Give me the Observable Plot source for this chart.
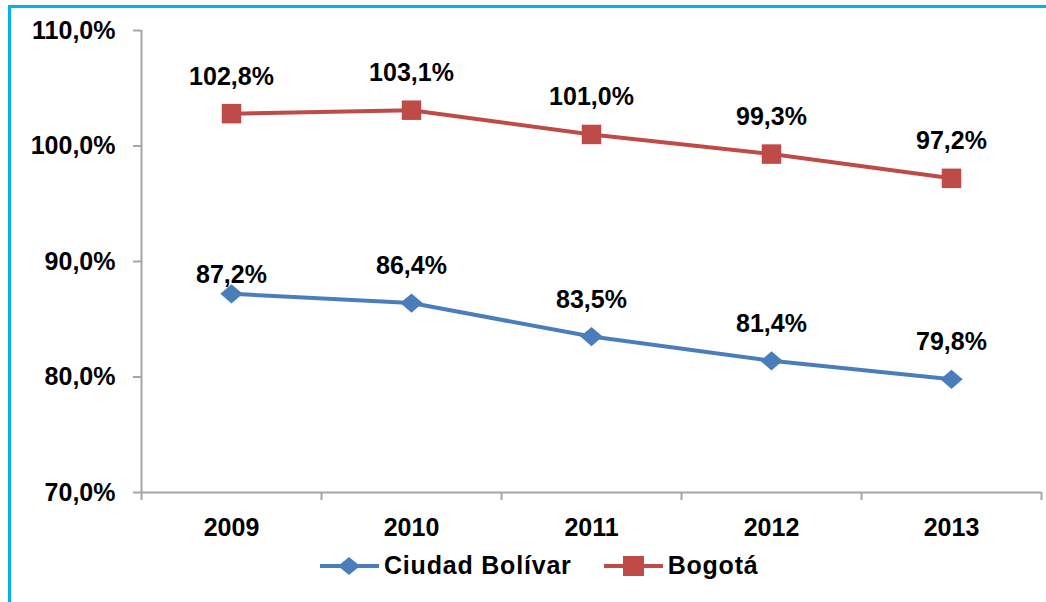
<!DOCTYPE html>
<html>
<head>
<meta charset="utf-8">
<script src="https://cdn.jsdelivr.net/npm/d3@7"></script>
<script src="https://cdn.jsdelivr.net/npm/@observablehq/plot@0.6"></script>
<style>
  html, body { margin: 0; padding: 0; background: #fff; }
  body { width: 1046px; height: 602px; position: relative; overflow: hidden;
         font-family: "Liberation Sans", Arial, sans-serif; }
  #frame { position: absolute; left: 8px; top: 5px; width: 1046px; height: 610px;
           border-top: 3px solid #00B0F0; border-left: 3px solid #00B0F0; box-sizing: border-box; }
  #chart { position: absolute; left: 0; top: 0; }
  #legend { position: absolute; left: 320px; top: 551px; display: flex; align-items: center;
            font-weight: bold; font-size: 25px; letter-spacing: 0.8px; color: #000; }
  #legend .item { display: flex; align-items: center; }
  #legend svg { display: block; margin-right: 5px; }
</style>
</head>
<body>
<div id="frame"></div>
<div id="chart"></div>
<div id="legend"></div>
<script>
const years = [2009, 2010, 2011, 2012, 2013];
const ciudadBolivar = [87.2, 86.4, 83.5, 81.4, 79.8];
const bogota = [102.8, 103.1, 101.0, 99.3, 97.2];
const seriesNames = ["Ciudad Bolívar", "Bogotá"];
const seriesColors = ["#4A7EBB", "#BE4B48"];
const yTicks = [70, 80, 90, 100, 110];

const data = [];
years.forEach((yr, i) => {
  data.push({year: yr, value: ciudadBolivar[i], series: seriesNames[0]});
  data.push({year: yr, value: bogota[i], series: seriesNames[1]});
});

const fmt = v => v.toFixed(1).replace(".", ",") + "%";

const diamond = {
  draw(ctx, size) {
    const r = Math.sqrt(size / 2);
    ctx.moveTo(0, -r * 0.9);
    ctx.lineTo(r * 1.05, 0);
    ctx.lineTo(0, r * 0.9);
    ctx.lineTo(-r * 1.05, 0);
    ctx.closePath();
  }
};

const boundaries = years.map(y => y - 0.5).concat([years[years.length - 1] + 0.5]);
const axisColor = "#A6A6A6";
const fontStyle = {fontFamily: "'Liberation Sans', Arial, sans-serif", fontWeight: "bold", fontSize: "25px", fill: "#000", letterSpacing: "0.5px"};

const first = d => d.year === years[0] && d.series === seriesNames[0];

const plot = Plot.plot({
  width: 1046,
  height: 545,
  marginLeft: 141,
  marginRight: 5,
  marginTop: 30,
  marginBottom: 53,
  style: {background: "transparent", overflow: "visible"},
  x: {domain: [boundaries[0], boundaries[boundaries.length - 1]]},
  y: {domain: [70, 110]},
  color: {domain: seriesNames, range: seriesColors},
  marks: [
    Plot.ruleX([boundaries[0]], {y1: 70, y2: 110, stroke: axisColor, strokeWidth: 2}),
    Plot.ruleY([70], {stroke: axisColor, strokeWidth: 2}),
    Plot.axisY({ticks: yTicks, tickSize: 8, tickPadding: 18, tickFormat: fmt, stroke: axisColor, strokeWidth: 2, strokeOpacity: 1, label: null, ...fontStyle, letterSpacing: "1px"}),
    Plot.axisX({ticks: boundaries, tickSize: 8, tickFormat: () => "", stroke: axisColor, strokeWidth: 2, strokeOpacity: 1, label: null}),
    Plot.axisX({ticks: years, tickSize: 0, tickPadding: 26, tickFormat: d => String(d), label: null, ...fontStyle, letterSpacing: "1.5px"}),
    Plot.line(data, {x: "year", y: "value", z: "series", stroke: "series", strokeWidth: 4, curve: "linear"}),
    Plot.dot(data.filter(d => d.series === seriesNames[1]), {x: "year", y: "value", symbol: "square", r: 11, fill: seriesColors[1], stroke: null}),
    Plot.dot(data.filter(d => d.series === seriesNames[0]), {x: "year", y: "value", symbol: diamond, r: 8.5, fill: seriesColors[0], stroke: null}),
    Plot.text(data.filter(d => !first(d)), {x: "year", y: "value", text: d => fmt(d.value), dy: -37, ...fontStyle}),
    Plot.text(data.filter(first), {x: "year", y: "value", text: d => fmt(d.value), dy: -19, ...fontStyle})
  ]
});
document.getElementById("chart").appendChild(plot);

const legend = document.getElementById("legend");
seriesNames.forEach((name, i) => {
  const item = document.createElement("div");
  item.className = "item";
  if (i > 0) item.style.marginLeft = "32px";
  const marker = i === 0
    ? `<path d="M29,-9 L40,0 L29,9 L18,0 Z" fill="${seriesColors[0]}"/>`
    : `<rect x="19" y="-10" width="21" height="20" fill="${seriesColors[1]}"/>`;
  item.innerHTML = `<svg width="59" height="24" viewBox="0 -12 59 24"><line x1="0" x2="59" y1="0" y2="0" stroke="${seriesColors[i]}" stroke-width="4"/>${marker}</svg><span>${name}</span>`;
  legend.appendChild(item);
});
</script>
</body>
</html>
